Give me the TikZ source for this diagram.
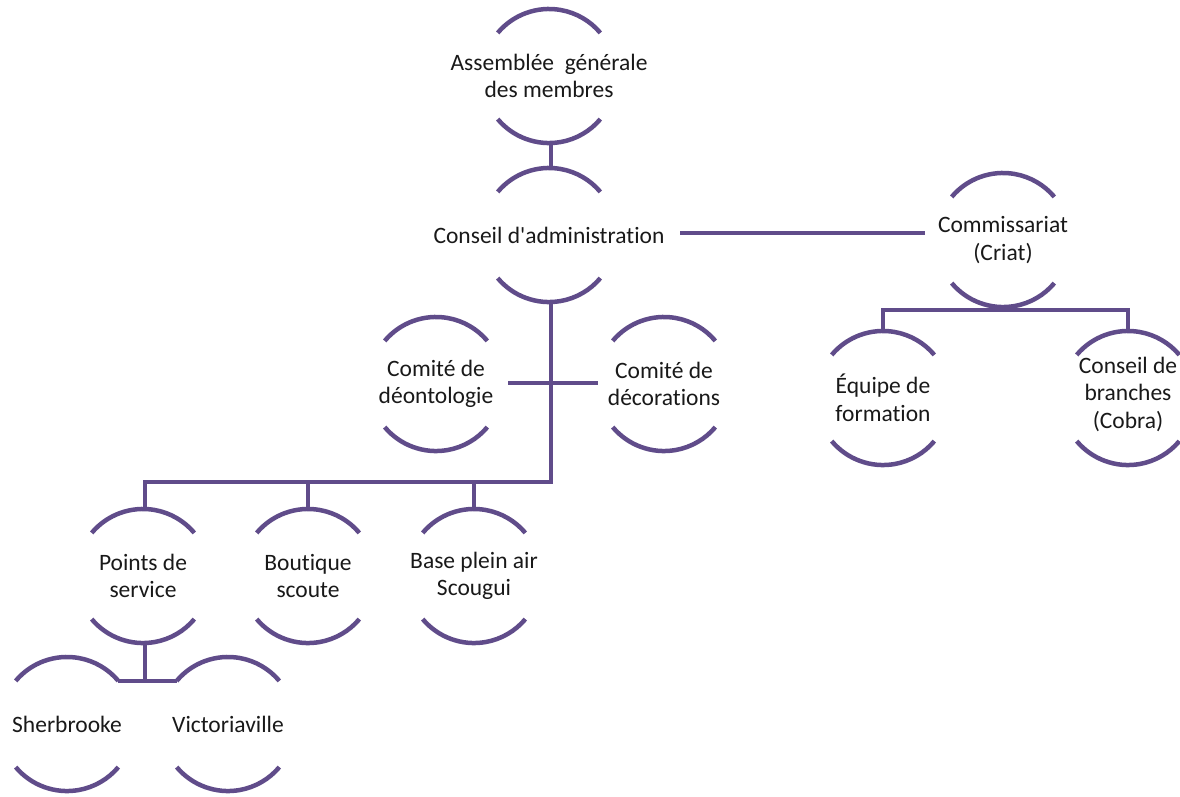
\documentclass[tikz,border=0pt]{standalone}
\usepackage{fontspec}
\setmainfont{Carlito}[Ligatures={NoCommon,TeXOff}]
\definecolor{purp}{RGB}{96,76,138}
\begin{document}
\begin{tikzpicture}[x=1pt,y=-1pt,
  lbl/.style={align=center,inner sep=0pt,font=\fontsize{23.5}{27.5}\selectfont,text=black!90},
  arcline/.style={draw=purp,line width=4.5pt},
  conn/.style={draw=purp,line width=4.6pt}]
\useasboundingbox (0,0) rectangle (1180,796);
% nodes
\node[lbl] (ag) at (549,76) {Assemblée\ \ générale\\des membres};
\node[lbl] (ca) at (549,235) {Conseil d'administration};
\node[lbl] (cr) at (1003,240) {Commissariat\\(Criat)};
\node[lbl] (cd) at (436,384) {Comité de\\déontologie};
\node[lbl] (cdec) at (664,384) {Comité de\\décorations};
\node[lbl] (ef) at (883,398) {Équipe de\\formation};
\node[lbl] (cb) at (1128,394) {Conseil de\\branches\\(Cobra)};
\node[lbl] (ps) at (143,576) {Points de\\service};
\node[lbl] (bs) at (308,576) {Boutique\\scoute};
\node[lbl] (bp) at (474,576) {Base plein air\\Scougui};
\node[lbl] (sh) at (67,724) {Sherbrooke};
\node[lbl] (vi) at (228,724) {Victoriaville};
% arcs
\foreach \n/\dy in {ag/0,ca/0,cr/0,cd/0,cdec/0,ef/0,cb/4,ps/0,bs/0,bp/0,sh/0,vi/0}{
  \draw[arcline] ([shift={(-51.3,-43.1+\dy)}]\n.center) arc[start angle=140,end angle=40,radius=67pt];
  \draw[arcline] ([shift={(-51.3,43.1+\dy)}]\n.center) arc[start angle=220,end angle=320,radius=67pt];
}
% connectors
\draw[conn] ([shift={(2,66)}]ag.center) -- ([shift={(2,-66)}]ca.center);
\draw[conn] ([shift={(2,66)}]ca.center) |- ([shift={(2,-94)}]ps.center) -- ([shift={(2,-66)}]ps.center);
\draw[conn] ([shift={(0,-94)}]bs.center) -- ([shift={(0,-66)}]bs.center);
\draw[conn] ([shift={(0,-94)}]bp.center) -- ([shift={(0,-66)}]bp.center);
\draw[conn] ([shift={(72,-1)}]cd.center) -- ([shift={(-66,-1)}]cdec.center);
\draw[conn] ([shift={(131,-2)}]ca.center) -- ([shift={(-78,-7)}]cr.center);
\draw[conn] ([shift={(0,66)}]cr.center) -- ([shift={(0,70)}]cr.center);
\draw[conn] ([shift={(0,-66)}]ef.center) |- ([shift={(0,-84)}]cb.center) -- ([shift={(0,-62)}]cb.center);
\draw[conn] ([shift={(2,66)}]ps.center) -- ([shift={(2,105)}]ps.center);
\draw[conn] ([shift={(51.3,-43.1)}]sh.center) -- ([shift={(-51.3,-43.1)}]vi.center);
\end{tikzpicture}
\end{document}
